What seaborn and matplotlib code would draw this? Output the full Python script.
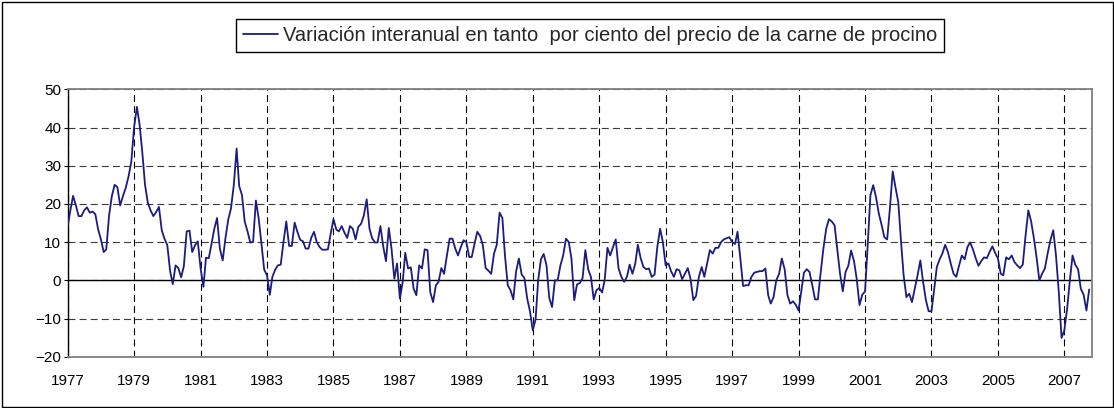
import matplotlib
matplotlib.use("Agg")
import matplotlib.pyplot as plt
import seaborn as sns
import pandas as pd
from matplotlib.patches import Rectangle

# Monthly year-on-year % change, Jan 1977 - Oct 2007
v1977 = [14.2, 18.5, 22.1, 19.6, 16.8, 16.8, 18.3, 19.1, 17.7, 18.0, 17.3, 13.4]
v1978 = [10.7, 7.4, 8.1, 17.0, 22.0, 25.0, 24.4, 19.6, 22.1, 24.2, 27.2, 31.0]
v1979 = [40.1, 45.4, 41.0, 33.6, 25.0, 20.3, 18.3, 16.8, 17.9, 19.2, 13.1, 10.9]
v1980 = [9.2, 2.4, -1.0, 3.9, 3.2, 0.8, 3.7, 12.8, 13.0, 7.4, 9.2, 10.2]
v1981 = [3.1, -1.7, 5.9, 5.8, 9.5, 13.5, 16.3, 8.3, 5.2, 11.0, 15.9, 18.8]
v1982 = [24.9, 34.5, 24.7, 22.3, 15.4, 12.8, 9.9, 10.0, 20.9, 16.3, 9.6, 2.8]
v1983 = [1.3, -3.8, 0.9, 2.8, 3.9, 4.1, 10.0, 15.4, 9.0, 9.0, 15.1, 12.7]
v1984 = [10.6, 10.2, 8.3, 8.3, 11.1, 12.7, 10.0, 8.7, 8.0, 8.0, 8.1, 12.2]
v1985 = [16.0, 13.3, 12.8, 14.2, 12.5, 11.1, 14.2, 13.5, 10.7, 14.0, 14.8, 17.0]
v1986 = [21.2, 13.5, 11.1, 9.9, 9.9, 14.2, 9.0, 5.0, 13.7, 8.3, 0.4, 4.4]
v1987 = [-4.8, -0.4, 7.2, 3.1, 3.4, -2.2, -3.9, 3.9, 3.1, 8.1, 7.9, -3.1]
v1988 = [-5.7, -1.3, -0.4, 3.2, 1.7, 6.5, 10.9, 10.9, 8.3, 6.5, 8.7, 10.5]
v1989 = [10.0, 6.1, 6.1, 9.6, 12.7, 11.6, 9.2, 3.2, 2.5, 1.7, 7.0, 9.3]
v1990 = [17.7, 16.3, 6.5, -1.3, -2.6, -5.0, 2.2, 5.7, 1.5, 0.6, -4.8, -8.1]
v1991 = [-13.1, -10.2, 0.0, 5.5, 6.9, 3.9, -4.6, -7.0, 0.0, 0.0, 3.9, 6.5]
v1992 = [10.9, 10.0, 5.7, -5.2, -1.1, -0.7, 0.5, 7.9, 2.9, 0.9, -5.0, -2.6]
v1993 = [-2.0, -3.2, 0.0, 8.5, 6.5, 8.7, 10.7, 3.1, 0.9, -0.4, 0.9, 4.1]
v1994 = [1.7, 4.4, 9.3, 5.8, 3.5, 2.9, 3.1, 0.9, 1.5, 8.7, 13.5, 10.0]
v1995 = [3.9, 4.4, 2.4, 0.9, 2.9, 2.6, 0.3, 1.7, 3.2, 0.4, -5.2, -4.1]
v1996 = [0.9, 3.5, 0.9, 4.4, 7.9, 7.0, 8.5, 8.5, 10.0, 10.7, 11.0, 11.3]
v1997 = [10.0, 9.5, 12.7, 5.7, -1.5, -1.3, -1.3, 0.9, 2.0, 2.2, 2.4, 2.4]
v1998 = [3.1, -3.9, -6.1, -4.4, 0.0, 1.7, 5.7, 2.9, -3.9, -6.1, -5.5, -6.4]
v1999 = [-7.9, -2.6, 2.0, 2.9, 2.2, -1.3, -5.0, -5.0, 2.0, 8.3, 13.5, 16.0]
v2000 = [15.4, 14.4, 8.3, 1.7, -2.9, 2.2, 3.8, 7.8, 5.1, 0.4, -6.5, -3.8]
v2001 = [-2.9, 10.0, 22.3, 24.9, 21.8, 17.5, 14.6, 11.3, 10.7, 18.8, 28.5, 24.4]
v2002 = [20.5, 10.0, 1.3, -4.4, -3.5, -5.7, -2.2, 1.3, 5.2, -0.4, -5.2, -8.1]
v2003 = [-8.1, -2.2, 3.5, 5.5, 7.0, 9.3, 7.4, 4.4, 1.7, 0.9, 3.9, 6.5]
v2004 = [5.5, 8.7, 9.9, 8.1, 5.8, 3.8, 5.0, 6.0, 5.8, 7.4, 8.9, 7.2]
v2005 = [5.7, 1.7, 1.3, 6.0, 5.5, 6.5, 4.8, 3.9, 3.2, 4.1, 11.8, 18.3]
v2006 = [15.4, 10.9, 6.1, 0.0, 1.7, 3.1, 7.0, 10.5, 13.1, 6.5, -3.1, -15.1]
v2007 = [-13.1, -7.4, -0.4, 6.5, 4.1, 2.9, -2.2, -3.8, -7.9, -2.4]

series_label = "Variación interanual en tanto  por ciento del precio de la carne de procino"
tick_years = list(range(1977, 2008, 2))
y_ticks = [-20, -10, 0, 10, 20, 30, 40, 50]

values = (v1977 + v1978 + v1979 + v1980 + v1981 + v1982 + v1983 + v1984 + v1985 + v1986
          + v1987 + v1988 + v1989 + v1990 + v1991 + v1992 + v1993 + v1994 + v1995 + v1996
          + v1997 + v1998 + v1999 + v2000 + v2001 + v2002 + v2003 + v2004 + v2005 + v2006
          + v2007)
dates = pd.date_range("1977-01-01", periods=len(values), freq="MS")
df = pd.DataFrame({"fecha": dates, "variacion": values, "serie": series_label})

sns.set_style("white")
plt.rcParams["font.family"] = ["Liberation Sans", "DejaVu Sans"]
plt.rcParams["lines.scale_dashes"] = False

W, H = 1114, 408
fig = plt.figure(figsize=(W / 100, H / 100), dpi=100)
left, right, top, bottom = 67.7, 1092, 89.3, 356.7
ax = fig.add_axes([left / W, 1 - bottom / H, (right - left) / W, (bottom - top) / H])

sns.lineplot(data=df, x="fecha", y="variacion", hue="serie", palette=["#1c1c80"],
             linewidth=1.3, ax=ax, legend=False, zorder=3)

ax.set_xlim(pd.Timestamp("1977-01-01"), pd.Timestamp("2007-11-01"))
ax.set_ylim(-20, 50)
ax.set_xticks([pd.Timestamp(f"{y}-01-01") for y in tick_years])
ax.set_xticklabels([str(y) for y in tick_years])
ax.set_yticks(y_ticks)
ax.set_xlabel("")
ax.set_ylabel("")

ax.xaxis.grid(True, color="black", linewidth=0.8, linestyle=(0, (5, 3)))
ax.yaxis.grid(True, color="#3a3a3a", linewidth=0.8, linestyle=(0, (5, 3)))
ax.axhline(0, color="black", linewidth=1.0, zorder=2)

ax.tick_params(axis="x", length=0, pad=12.5, labelsize=11, labelcolor="black")
ax.tick_params(axis="y", length=3.2, width=0.8, color="black", direction="out",
               pad=1.5, labelsize=11, labelcolor="black", left=True)

for side in ["top", "right", "bottom"]:
    ax.spines[side].set_color("#808080")
    ax.spines[side].set_linewidth(1.3)
ax.spines["left"].set_color("black")
ax.spines["left"].set_linewidth(1.0)

line = ax.get_lines()[0]
leg = fig.legend([line], [series_label], loc="upper center",
                 bbox_to_anchor=(590 / W, 1 - 19 / H), frameon=True, fancybox=False,
                 edgecolor="black", framealpha=1, fontsize=14.5, handlelength=1.75,
                 handletextpad=0.2, borderpad=0.35, borderaxespad=0)
leg.get_frame().set_linewidth(1.0)

fig.patches.append(Rectangle((1.5 / W, 1.5 / H), (W - 3) / W, (H - 3) / H,
                             transform=fig.transFigure, fill=False,
                             edgecolor="black", linewidth=1.0))

fig.savefig("out.png", dpi=100)
